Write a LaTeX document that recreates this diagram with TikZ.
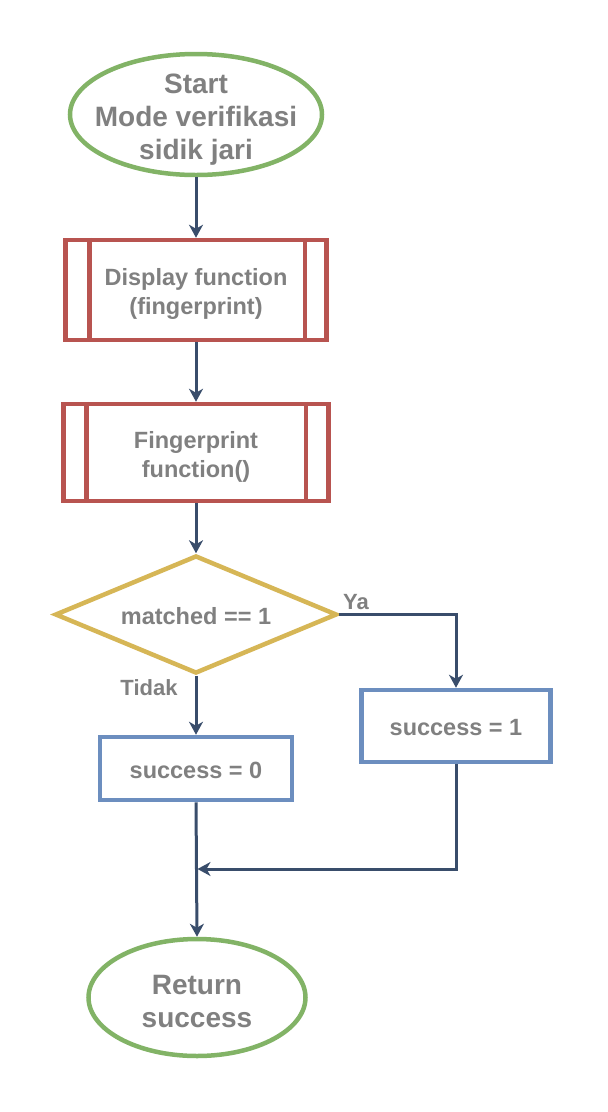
\documentclass[tikz,border=0pt]{standalone}
\usepackage{fontspec}
\setmainfont{Liberation Sans}
\usetikzlibrary{shapes.geometric,arrows.meta}
\definecolor{termgreen}{HTML}{82B366}
\definecolor{procred}{HTML}{B85450}
\definecolor{decyellow}{HTML}{D6B656}
\definecolor{opblue}{HTML}{6C8EBF}
\definecolor{flowline}{HTML}{394D6B}
\definecolor{labelgray}{HTML}{808080}
\begin{document}
\begin{tikzpicture}[x=1pt,y=-1pt,
  every node/.style={text=labelgray, align=center, inner sep=0pt},
  every label/.style={font=\bfseries\fontsize{23.5}{29}\selectfont, text=labelgray, align=center, inner sep=0pt, yshift=-4pt},
  bigtext/.style={font=\bfseries\fontsize{28}{33}\selectfont},
  terminal/.style={ellipse, draw=termgreen, line width=4.5pt, fill=white},
  subproc/.style={rectangle, draw=procred, line width=4.5pt, fill=white},
  decision/.style={diamond, draw=decyellow, line width=4.5pt, fill=white},
  operation/.style={rectangle, draw=opblue, line width=4.5pt, fill=white},
  flow/.style={draw=flowline, line width=3pt, -{Stealth[length=13pt,width=14pt,inset=4pt]}},
  edgelabel/.style={font=\bfseries\fontsize{22}{26}\selectfont, text=labelgray}
]
\useasboundingbox (0,0) rectangle (608,1112);

% terminals, sub-processes, decision and assignments
\node[terminal, minimum width=252pt, minimum height=121pt,
  label={[bigtext,yshift=-1pt]center:{Start\\Mode verifikasi\\sidik jari}}] (start) at (196,114.5) {};

\node[subproc, minimum width=261pt, minimum height=100pt,
  label=center:{Display function\\(fingerprint)}] (disp) at (196,290) {};
\node[subproc, minimum width=265pt, minimum height=97pt,
  label=center:{Fingerprint\\function()}] (fing) at (196,452.5) {};

\node[decision, minimum width=282pt, minimum height=118pt,
  label={[yshift=2pt]center:matched == 1}] (dec) at (196,614.5) {};

\node[operation, minimum width=189pt, minimum height=72pt,
  label={[yshift=2pt]center:success = 1}] (one) at (456,726) {};
\node[operation, minimum width=192pt, minimum height=63pt,
  label={[yshift=2pt]center:success = 0}] (zero) at (196,768.5) {};

\node[terminal, minimum width=217pt, minimum height=117pt,
  label={[bigtext]center:{Return\\success}}] (ret) at (197,997.5) {};

% inner bars of the predefined-process boxes
\draw[procred, line width=4.5pt] ([xshift=26pt]disp.north west) -- ([xshift=26pt]disp.south west);
\draw[procred, line width=4.5pt] ([xshift=-24pt]disp.north east) -- ([xshift=-24pt]disp.south east);
\draw[procred, line width=4.5pt] ([xshift=25pt]fing.north west) -- ([xshift=25pt]fing.south west);
\draw[procred, line width=4.5pt] ([xshift=-25pt]fing.north east) -- ([xshift=-25pt]fing.south east);

% connectors
\coordinate (merge) at (197.5,869);
\draw[flow] (start.south) -- (disp.north);
\draw[flow] (disp.south) -- (fing.north);
\draw[flow] (fing.south) -- (dec.north);
\draw[flow] (dec.east) -| (one.north);
\draw[flow] (dec.south) -- (zero.north);
\draw[flow] (zero.south) -- (ret.north);
\draw[flow] (one.south) |- (merge);

% branch labels
\node[edgelabel] (ya) at (356,602) {Ya};
\node[edgelabel] (tidak) at (149,688) {Tidak};
\end{tikzpicture}
\end{document}
